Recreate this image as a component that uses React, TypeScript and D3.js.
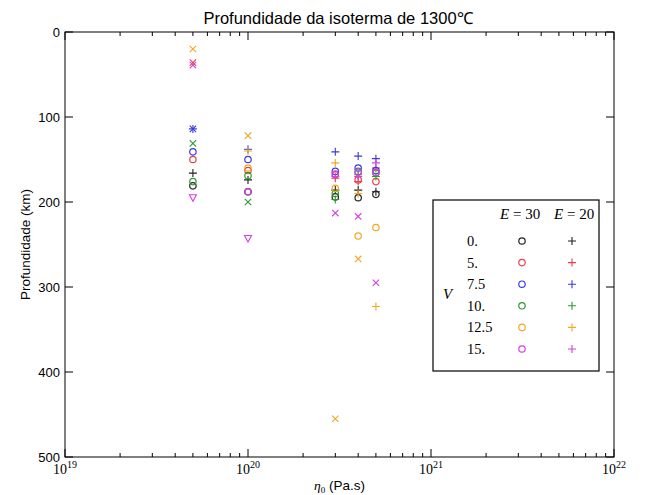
import React from "react";
import * as d3 from "d3";

// viscosities (Pa.s) where runs were made
const etaValues = [5e19, 1e20, 3e20, 4e20, 5e20];

// velocity cases and their colours
const vLabels = ["0.", "5.", "7.5", "10.", "12.5", "15."];
const vColors = ["#222222", "#e8404a", "#3a3ae0", "#2e9a2e", "#f5a623", "#d63fe0"];

// isotherm depth (km) for E = 30 (circles), one array per V
const depthE30 = [
  [181, 188, 194, 195, 191],
  [150, 163, 168, 174, 176],
  [141, 150, 164, 160, 163],
  [176, 169, 190, 164, 166],
  [null, 160, 184, 240, 230],
  [null, 188, 167, 165, 165],
];

// isotherm depth (km) for E = 20 (plus), one array per V
const depthE20 = [
  [166, 174, 186, 186, 188],
  [null, null, 172, 176, 160],
  [114, 138, 141, 146, 149],
  [null, null, 197, 168, 170],
  [null, 140, 154, 190, 323],
  [null, null, 170, 170, 154],
];

// other runs (x markers), one array per V
const depthX = [
  [null, null, null, null, null],
  [36, null, null, null, null],
  [114, null, null, null, null],
  [131, 200, null, null, null],
  [20, 122, 455, 267, null],
  [39, null, 213, 217, 295],
];

// other runs (triangles), magenta only
const depthTri = [195, 243, null, null, null];

const yTicks = [0, 100, 200, 300, 400, 500];
const xMajor = [19, 20, 21, 22];

const W = 645;
const H = 495;
const left = 65;
const right = 614;
const top = 32;
const bottom = 457;

export default function App() {
  const x = d3.scaleLog().domain([1e19, 1e22]).range([left, right]);
  const y = d3.scaleLinear().domain([0, 500]).range([top, bottom]);

  const minors: number[] = [];
  for (let e = 19; e < 22; e++) {
    for (let k = 2; k <= 9; k++) minors.push(k * Math.pow(10, e));
  }

  const circle = (cx: number, cy: number, c: string, key: string) => (
    <circle key={key} cx={cx} cy={cy} r={3.2} fill="none" stroke={c} strokeWidth={1.2} />
  );
  const plus = (cx: number, cy: number, c: string, key: string) => (
    <path key={key} d={`M${cx - 4},${cy}H${cx + 4}M${cx},${cy - 4}V${cy + 4}`} stroke={c} strokeWidth={1.1} />
  );
  const cross = (cx: number, cy: number, c: string, key: string) => (
    <path
      key={key}
      d={`M${cx - 3.2},${cy - 3.2}L${cx + 3.2},${cy + 3.2}M${cx - 3.2},${cy + 3.2}L${cx + 3.2},${cy - 3.2}`}
      stroke={c}
      strokeWidth={1.1}
    />
  );
  const tri = (cx: number, cy: number, c: string, key: string) => (
    <path key={key} d={`M${cx - 3.5},${cy - 3}L${cx + 3.5},${cy - 3}L${cx},${cy + 3.5}Z`} fill="none" stroke={c} strokeWidth={1.1} />
  );

  const marks: React.ReactNode[] = [];
  vColors.forEach((c, i) => {
    etaValues.forEach((eta, j) => {
      const a = depthE30[i][j];
      const b = depthE20[i][j];
      const xx = depthX[i][j];
      if (xx != null) marks.push(cross(x(eta), y(xx), c, `x${i}-${j}`));
      if (a != null) marks.push(circle(x(eta), y(a), c, `c${i}-${j}`));
      if (b != null) marks.push(plus(x(eta), y(b), c, `p${i}-${j}`));
    });
  });
  etaValues.forEach((eta, j) => {
    const t = depthTri[j];
    if (t != null) marks.push(tri(x(eta), y(t), vColors[5], `t${j}`));
  });

  const serif = "'Liberation Serif', 'DejaVu Serif', serif";
  const sans = "'Liberation Sans', Arial, sans-serif";

  // legend layout
  const lx = 433;
  const ly = 200;
  const rowY = (i: number) => ly + 41 + i * 21.6;

  return (
    <svg width={W} height={H} style={{ position: "absolute", left: 0, top: 0 }}>
      <rect x={0} y={0} width={W} height={H} fill="#fff" />
      <text x={338} y={24} textAnchor="middle" fontFamily={sans} fontSize={16.5}>
        Profundidade da isoterma de 1300℃
      </text>

      {marks}

      {/* ticks */}
      {xMajor.map((e) => {
        const px = x(Math.pow(10, e));
        return (
          <g key={`xm${e}`}>
            <line x1={px} x2={px} y1={bottom} y2={bottom - 8} stroke="#000" />
            <line x1={px} x2={px} y1={top} y2={top + 8} stroke="#000" />
          </g>
        );
      })}
      {minors.map((v, i) => {
        const px = x(v);
        return (
          <g key={`xn${i}`}>
            <line x1={px} x2={px} y1={bottom} y2={bottom - 4} stroke="#000" />
            <line x1={px} x2={px} y1={top} y2={top + 4} stroke="#000" />
          </g>
        );
      })}
      {yTicks.map((t) => (
        <g key={`y${t}`}>
          <line x1={left} x2={left + 8} y1={y(t)} y2={y(t)} stroke="#000" />
          <line x1={right} x2={right - 8} y1={y(t)} y2={y(t)} stroke="#000" />
          <text x={left - 5} y={y(t) + 4.5} textAnchor="end" fontFamily={sans} fontSize={13}>
            {t}
          </text>
        </g>
      ))}
      {xMajor.map((e) => (
        <text key={`xl${e}`} x={x(Math.pow(10, e))} y={bottom + 17} textAnchor="middle" fontFamily={serif} fontSize={14}>
          10
          <tspan dy={-6} fontSize={10}>
            {e}
          </tspan>
        </text>
      ))}

      <rect x={left} y={top} width={right - left} height={bottom - top} fill="none" stroke="#000" strokeWidth={1} />

      <text
        transform={`translate(30,${(top + bottom) / 2}) rotate(-90)`}
        textAnchor="middle"
        fontFamily={sans}
        fontSize={13.5}
      >
        Profundidade (km)
      </text>
      <text x={(left + right) / 2} y={490} textAnchor="middle" fontFamily={sans} fontSize={13.5}>
        <tspan fontFamily={serif} fontStyle="italic">
          η
        </tspan>
        <tspan fontFamily={serif} fontSize={9} dy={3}>
          0
        </tspan>
        <tspan dy={-3}> (Pa.s)</tspan>
      </text>

      {/* legend */}
      <rect x={lx} y={ly} width={166} height={171} fill="#fff" stroke="#000" strokeWidth={1.2} />
      <text x={lx + 67} y={ly + 19} fontFamily={serif} fontSize={15}>
        <tspan fontStyle="italic">E</tspan> = 30
      </text>
      <text x={lx + 121} y={ly + 19} fontFamily={serif} fontSize={15}>
        <tspan fontStyle="italic">E</tspan> = 20
      </text>
      <text x={lx + 10} y={ly + 99} fontFamily={serif} fontStyle="italic" fontSize={15}>
        V
      </text>
      {vLabels.map((lab, i) => (
        <g key={`lg${i}`}>
          <text x={lx + 34} y={rowY(i) + 5} fontFamily={serif} fontSize={14.5}>
            {lab}
          </text>
          {circle(lx + 89, rowY(i), vColors[i], `lc${i}`)}
          {plus(lx + 139, rowY(i), vColors[i], `lp${i}`)}
        </g>
      ))}
    </svg>
  );
}
